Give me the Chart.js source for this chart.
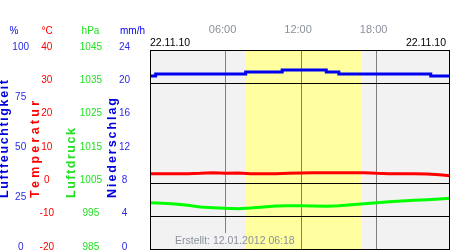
<!DOCTYPE html>
<html>
<head>
<meta charset="utf-8">
<script src="https://cdn.jsdelivr.net/npm/chart.js@4.4.1/dist/chart.umd.min.js"></script>
<style>
  html, body { margin: 0; padding: 0; background: #fff; }
</style>
</head>
<body>
<canvas id="myChart" width="450" height="250"></canvas>
<script>
// Weather station day chart, 22.11.10 (time in hours since midnight)
const sampleTimes = [0, 1, 2, 3, 4, 5, 6, 7, 8, 9, 10, 11, 12, 13, 14, 15, 16, 17, 18, 19, 20, 21, 22, 23, 23.83];
const tempValues = [2.9, 2.9, 2.9, 2.9, 3.0, 3.2, 3.0, 3.1, 2.9, 2.9, 2.9, 3.0, 3.1, 3.2, 3.2, 3.2, 3.2, 3.2, 3.0, 2.9, 2.9, 2.9, 2.8, 2.6, 2.3];
const pressureValues = [999.2, 999.0, 998.8, 998.4, 997.9, 997.7, 997.5, 997.4, 997.6, 997.9, 998.2, 998.3, 998.3, 998.2, 998.1, 998.3, 998.6, 998.9, 999.2, 999.5, 999.7, 999.9, 1000.1, 1000.3, 1000.5];
const rainValues = [0, 0, 0, 0, 0, 0, 0, 0, 0, 0, 0, 0, 0, 0, 0, 0, 0, 0, 0, 0, 0, 0, 0, 0, 0];

// humidity changes in steps, value holds from each time on
const humTimes = [0, 0.45, 7.6, 10.5, 14, 15, 22.3, 23.83];
const humValues = [87, 88, 89, 90, 89, 88, 87, 87];

const hourTicks = [6, 12, 18];
const hourLabels = ['06:00', '12:00', '18:00'];
const daylight = [7.6, 16.8];
const dayLabel = '22.11.10';
const createdLabel = 'Erstellt: 12.01.2012 06:18';

const freezeLines = [30, 0, -10];

Chart.defaults.font.family = '"Liberation Sans", Arial, sans-serif';

const toPoints = (xs, ys) => xs.map((x, i) => ({x: x, y: ys[i]}));

const BLUE = '#0000ee';
const RED = '#ff0000';
const GREEN = '#00ff00';
const GREEN_TEXT = '#22e022';
const GREY_TEXT = '#8a909c';

// plot background with the daylight band
const plotBackground = {
  id: 'plotBackground',
  beforeDraw(chart) {
    const {ctx, chartArea: a, scales: {x}} = chart;
    ctx.save();
    ctx.fillStyle = '#f2f2f2';
    ctx.fillRect(a.left, a.top, a.width, a.height);
    const x0 = x.getPixelForValue(daylight[0]);
    const x1 = x.getPixelForValue(daylight[1]);
    ctx.fillStyle = '#ffffa0';
    ctx.fillRect(x0, a.top, x1 - x0, a.height);
    ctx.restore();
  }
};

// frame, units, axis titles, dates
const annotations = {
  id: 'annotations',
  afterDraw(chart) {
    const {ctx, chartArea: a, scales: {x}} = chart;
    ctx.save();

    // "Erstellt" note with cleared background
    ctx.font = '10.5px "Liberation Sans", Arial, sans-serif';
    const tx = 175, ty = 241.5;
    const tw = ctx.measureText(createdLabel).width;
    const bandStart = x.getPixelForValue(daylight[0]);
    ctx.fillStyle = '#f2f2f2';
    ctx.fillRect(tx - 2, 233, Math.min(tx + tw + 2, bandStart) - (tx - 2), a.bottom - 233 - 1);
    ctx.fillStyle = '#ffffa0';
    ctx.fillRect(bandStart, 233, tx + tw + 2 - bandStart, a.bottom - 233 - 1);
    ctx.fillStyle = GREY_TEXT;
    ctx.textAlign = 'left';
    ctx.textBaseline = 'middle';
    ctx.fillText(createdLabel, tx, ty);

    // frame
    ctx.strokeStyle = '#000';
    ctx.lineWidth = 1;
    ctx.strokeRect(a.left + 0.5, a.top + 0.5, a.width - 1, a.height - 1);

    // dates
    ctx.fillStyle = '#000';
    ctx.textBaseline = 'middle';
    ctx.textAlign = 'left';
    ctx.fillText(dayLabel, a.left, 43);
    ctx.textAlign = 'right';
    ctx.fillText(dayLabel, a.right - 4, 43);

    // units
    ctx.font = '10px "Liberation Sans", Arial, sans-serif';
    ctx.textAlign = 'center';
    [['%', BLUE, 14], ['°C', RED, 47], ['hPa', GREEN_TEXT, 90.5], ['mm/h', BLUE, 132.5]].forEach(([t, c, cx]) => {
      ctx.fillStyle = c;
      ctx.fillText(t, cx, 31);
    });

    // rotated, letter-spaced axis titles
    ctx.font = 'bold 12.5px "Liberation Sans", Arial, sans-serif';
    ctx.textAlign = 'left';
    [['Luftfeuchtigkeit', '#0000dd', 4.8, 118],
     ['Temperatur', RED, 35.8, 97],
     ['Luftdruck', GREEN_TEXT, 71.7, 70],
     ['Niederschlag', '#0000dd', 112.3, 100]].forEach(([t, c, cx, len]) => {
      ctx.letterSpacing = '0px';
      const w = ctx.measureText(t).width;
      const s = Math.max(0, (len - w) / (t.length - 1));
      ctx.letterSpacing = s + 'px';
      ctx.save();
      ctx.translate(cx, 198);
      ctx.rotate(-Math.PI / 2);
      ctx.fillStyle = c;
      ctx.fillText(t, 0, 0);
      ctx.restore();
    });
    ctx.letterSpacing = '0px';
    ctx.restore();
  }
};

const noPad = (w) => (scale) => {
  scale.width = w;
  scale.paddingTop = 0;
  scale.paddingBottom = 0;
};

const yAxis = (weight, min, max, step, color, pad, width) => ({
  position: 'left',
  weight: weight,
  min: min,
  max: max,
  ticks: {
    stepSize: step,
    color: color,
    crossAlign: 'center',
    padding: pad,
    labelOffset: -3,
    autoSkip: false,
    font: {size: 10},
    callback: (value) => String(value)
  },
  grid: {display: false, drawTicks: false},
  border: {display: false},
  afterFit: noPad(width)
});

const data = {
  datasets: [
    {
      label: 'Luftfeuchtigkeit',
      data: toPoints(humTimes, humValues),
      yAxisID: 'yHum',
      borderColor: BLUE,
      borderWidth: 3,
      stepped: true,
      pointRadius: 0,
      fill: false
    },
    {
      label: 'Temperatur',
      data: toPoints(sampleTimes, tempValues),
      yAxisID: 'yTemp',
      borderColor: RED,
      borderWidth: 3,
      tension: 0,
      pointRadius: 0,
      fill: false
    },
    {
      label: 'Luftdruck',
      data: toPoints(sampleTimes, pressureValues),
      yAxisID: 'yPres',
      borderColor: GREEN,
      borderWidth: 3,
      tension: 0,
      pointRadius: 0,
      fill: false
    },
    {
      type: 'bar',
      label: 'Niederschlag',
      data: toPoints(sampleTimes, rainValues),
      yAxisID: 'yRain',
      backgroundColor: BLUE,
      borderWidth: 0
    }
  ]
};

const tempAxis = yAxis(3, -20, 40, 10, RED, 8, 30);
tempAxis.grid = {
  display: true,
  drawTicks: false,
  lineWidth: 1,
  color: (ctx) => freezeLines.includes(ctx.tick && ctx.tick.value) ? '#000' : 'rgba(0,0,0,0)'
};

const config = {
  type: 'line',
  data: data,
  plugins: [plotBackground, annotations],
  options: {
    responsive: false,
    animation: false,
    events: [],
    layout: {padding: 0},
    plugins: {
      legend: {display: false},
      tooltip: {enabled: false}
    },
    scales: {
      x: {
        type: 'linear',
        position: 'top',
        min: 0,
        max: sampleTimes[sampleTimes.length - 1],
        offset: false,
        afterBuildTicks: (scale) => {
          scale.ticks = hourTicks.map(v => ({value: v}));
        },
        ticks: {
          callback: (value) => hourLabels[hourTicks.indexOf(value)],
          color: GREY_TEXT,
          font: {size: 11},
          padding: 13,
          labelOffset: -3,
          maxRotation: 0,
          autoSkip: false
        },
        grid: {color: '#808080', lineWidth: 1, drawTicks: false, offset: false},
        border: {display: false},
        afterFit: (scale) => {
          scale.height = 50;
          scale.paddingLeft = 0;
          scale.paddingRight = 0;
        }
      },
      yHum: yAxis(4, 0, 100, 25, '#2a2ae6', 3, 32),
      yTemp: tempAxis,
      yPres: yAxis(2, 985, 1045, 10, GREEN_TEXT, 4, 44),
      yRain: yAxis(1, 0, 24, 4, '#2a2ae6', 20, 44)
    }
  }
};

window.onload = function () {
  const ctx = document.getElementById('myChart');
  new Chart(ctx, config);
};
</script>
</body>
</html>
